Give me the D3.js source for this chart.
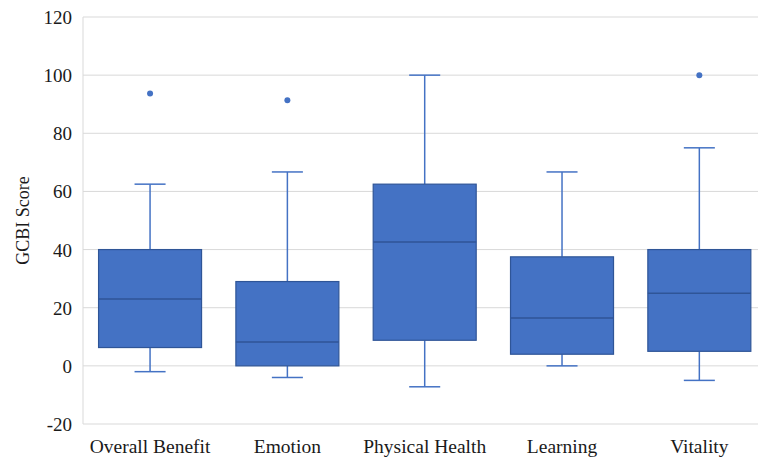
<!DOCTYPE html>
<html>
<head>
<meta charset="utf-8">
<script src="https://cdn.jsdelivr.net/npm/d3@7"></script>
<style>
  body { margin: 0; background: #fff; }
</style>
</head>
<body>
<svg id="chart" width="758" height="458"></svg>
<script>
// box plot values
const categories = ['Overall Benefit', 'Emotion', 'Physical Health', 'Learning', 'Vitality'];
const whiskerLow = [-2, -4, -7.2, 0, -5];
const q1 = [6.3, 0, 8.8, 4, 5];
const median = [23, 8.2, 42.6, 16.5, 25];
const q3 = [40, 29, 62.5, 37.5, 40];
const whiskerHigh = [62.5, 66.7, 100, 66.7, 75];
const outliers = [[93.7], [91.4], [], [], [100]];
const yTicks = [-20, 0, 20, 40, 60, 80, 100, 120];

const svg = d3.select('#chart');
const BLUE = '#4472c4';
const DARK = '#2f5597';
const FONT = '"Liberation Serif", "DejaVu Serif", "Times New Roman", Times, serif';

const x = d3.scaleBand().domain(categories).range([81.4, 768]).paddingInner(0).paddingOuter(0);
const y = d3.scaleLinear().domain([-20, 120]).range([424, 17]);

// gridlines
svg.append('g').selectAll('line').data(yTicks).join('line')
  .attr('x1', 83).attr('x2', 768)
  .attr('y1', d => y(d)).attr('y2', d => y(d))
  .attr('stroke', '#d9d9d9').attr('stroke-width', 1);
svg.append('line').attr('x1', 83).attr('x2', 83).attr('y1', y(120)).attr('y2', y(-20))
  .attr('stroke', '#d9d9d9');

// y tick labels
svg.append('g').selectAll('text').data(yTicks).join('text')
  .attr('x', 72).attr('y', d => y(d) + 7)
  .attr('text-anchor', 'end')
  .attr('font-family', FONT).attr('font-size', 19).attr('fill', '#1a1a1a')
  .text(d => d);

svg.append('text')
  .attr('transform', `translate(29,${(y(120) + y(-20)) / 2}) rotate(-90)`)
  .attr('text-anchor', 'middle')
  .attr('font-family', FONT).attr('font-size', 18).attr('fill', '#1a1a1a')
  .text('GCBI Score');

// x labels
svg.append('g').selectAll('text').data(categories).join('text')
  .attr('x', d => x(d) + x.bandwidth() / 2).attr('y', 453)
  .attr('text-anchor', 'middle')
  .attr('font-family', FONT).attr('font-size', 19.5).attr('fill', '#1a1a1a')
  .text(d => d);

const boxW = x.bandwidth() * 0.75;
const capW = x.bandwidth() * 0.226;

const rows = categories.map((c, i) => ({ c, lo: whiskerLow[i], q1: q1[i], med: median[i], q3: q3[i], hi: whiskerHigh[i], out: outliers[i] }));
const g = svg.append('g').selectAll('g').data(rows).join('g')
  .attr('transform', d => `translate(${x(d.c) + x.bandwidth() / 2},0)`);

// whiskers
g.append('line').attr('x1', 0).attr('x2', 0).attr('y1', d => y(d.hi)).attr('y2', d => y(d.q3))
  .attr('stroke', BLUE).attr('stroke-width', 1.5);
g.append('line').attr('x1', 0).attr('x2', 0).attr('y1', d => y(d.q1)).attr('y2', d => y(d.lo))
  .attr('stroke', BLUE).attr('stroke-width', 1.5);
g.append('line').attr('x1', -capW / 2).attr('x2', capW / 2).attr('y1', d => y(d.hi)).attr('y2', d => y(d.hi))
  .attr('stroke', BLUE).attr('stroke-width', 1.5);
g.append('line').attr('x1', -capW / 2).attr('x2', capW / 2).attr('y1', d => y(d.lo)).attr('y2', d => y(d.lo))
  .attr('stroke', BLUE).attr('stroke-width', 1.5);

// boxes
g.append('rect')
  .attr('x', -boxW / 2).attr('width', boxW)
  .attr('y', d => y(d.q3)).attr('height', d => y(d.q1) - y(d.q3))
  .attr('fill', BLUE).attr('stroke', DARK).attr('stroke-width', 1.2);
g.append('line').attr('x1', -boxW / 2).attr('x2', boxW / 2)
  .attr('y1', d => y(d.med)).attr('y2', d => y(d.med))
  .attr('stroke', DARK).attr('stroke-width', 1.5);

// outliers
g.selectAll('circle').data(d => d.out).join('circle')
  .attr('cx', 0).attr('cy', d => y(d)).attr('r', 3)
  .attr('fill', BLUE);
</script>
</body>
</html>
